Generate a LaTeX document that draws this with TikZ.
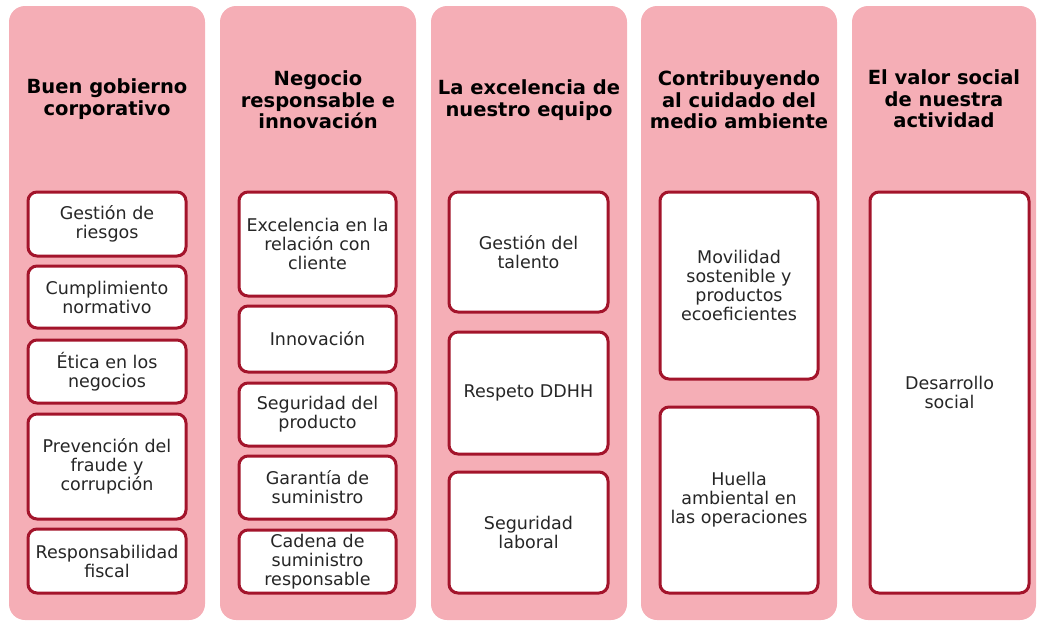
\documentclass[tikz,border=0pt]{standalone}
\usepackage{fontspec}
\setmainfont{DejaVu Sans}
\definecolor{colpink}{HTML}{F5AEB6}
\definecolor{boxred}{HTML}{A3142B}
\definecolor{boxtext}{HTML}{262626}
\begin{document}
\begin{tikzpicture}[x=1pt, y=-1pt]
	\tikzstyle{column} = [fill=colpink, rounded corners=16pt, minimum height=614pt, inner sep=0pt]
	\tikzstyle{title} = [align=center, text=black, font=\fontsize{19.5}{21.5}\selectfont\bfseries]
	\tikzstyle{topic} = [draw=boxred, line width=3pt, fill=white, rounded corners=9pt, align=center, inner sep=0pt, text=boxtext, font=\fontsize{17.5}{19}\selectfont]
	\useasboundingbox (0,0) rectangle (1038,622);
	% columns
	\node[column, minimum width=196pt](C1) at (107,313) {};
	\node[column, minimum width=196pt](C2) at (318,313) {};
	\node[column, minimum width=196pt](C3) at (529,313) {};
	\node[column, minimum width=196pt](C4) at (739,313) {};
	\node[column, minimum width=184pt](C5) at (944,313) {};
	% titles
	\node[title](T1) at (107,99) {Buen gobierno\\corporativo};
	\node[title](T2) at (318,100) {Negocio\\responsable e\\innovación};
	\node[title](T3) at (529,100) {La excelencia de\\nuestro equipo};
	\node[title](T4) at (739,100) {Contribuyendo\\al cuidado del\\medio ambiente};
	\node[title](T5) at (944,99) {El valor social\\de nuestra\\actividad};
	% column 1
	\node[topic, minimum width=158pt, minimum height=64pt](riesgos) at (107,224) {Gestión de\\riesgos};
	\node[topic, minimum width=158pt, minimum height=62pt](normativo) at (107,297) {Cumplimiento\\normativo};
	\node[topic, minimum width=158pt, minimum height=63pt](etica) at (107,371.5) {Ética en los\\negocios};
	\node[topic, minimum width=158pt, minimum height=105pt](fraude) at (107,466.5) {Prevención del\\fraude y\\corrupción};
	\node[topic, minimum width=158pt, minimum height=64pt](fiscal) at (107,561) {Responsabilidad\\fiscal};
	% column 2
	\node[topic, minimum width=157pt, minimum height=104pt](cliente) at (317.5,244) {Excelencia en la\\relación con\\cliente};
	\node[topic, minimum width=157pt, minimum height=66pt](innovacion) at (317.5,339) {Innovación};
	\node[topic, minimum width=157pt, minimum height=63pt](producto) at (317.5,414.5) {Seguridad del\\producto};
	\node[topic, minimum width=157pt, minimum height=63pt](garantia) at (317.5,487.5) {Garantía de\\suministro};
	\node[topic, minimum width=157pt, minimum height=63pt](cadena) at (317.5,561.5) {Cadena de\\suministro\\responsable};
	% column 3
	\node[topic, minimum width=159pt, minimum height=120pt](talento) at (528.5,252) {Gestión del\\talento};
	\node[topic, minimum width=159pt, minimum height=122pt](ddhh) at (528.5,393) {Respeto DDHH};
	\node[topic, minimum width=159pt, minimum height=121pt](laboral) at (528.5,532.5) {Seguridad\\laboral};
	% column 4
	\node[topic, minimum width=158pt, minimum height=187pt](movilidad) at (739,285.5) {Movilidad\\sostenible y\\productos\\ecoeficientes};
	\node[topic, minimum width=158pt, minimum height=186pt](huella) at (739,500) {Huella\\ambiental en\\las operaciones};
	% column 5
	\node[topic, minimum width=159pt, minimum height=401pt](desarrollo) at (949.5,392.5) {Desarrollo\\social};
\end{tikzpicture}
\end{document}
